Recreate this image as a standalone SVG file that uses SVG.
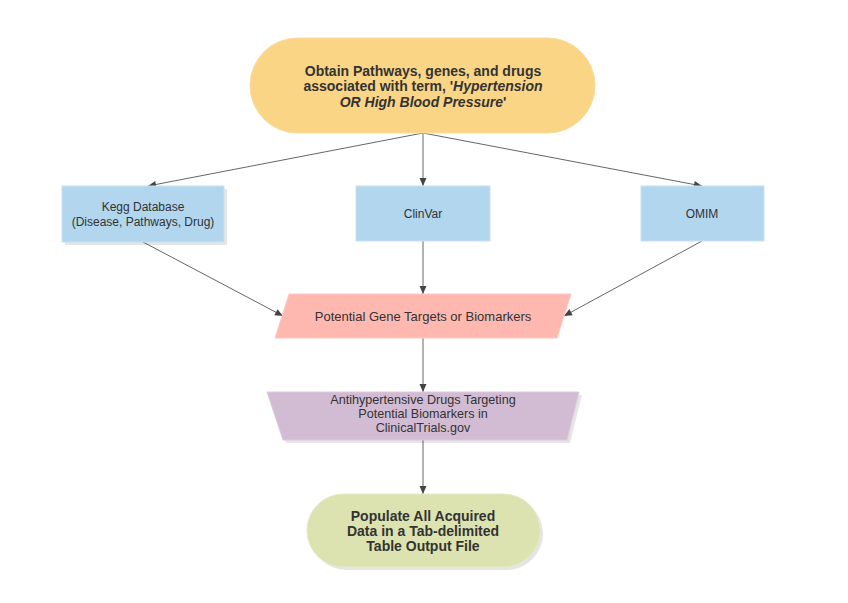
<svg xmlns="http://www.w3.org/2000/svg" width="848" height="603" viewBox="0 0 848 603">
<style>
text{font-family:"Liberation Sans",Arial,sans-serif;fill:#333;text-anchor:middle}
.b{font-weight:bold;font-size:14px}
.n{font-size:12px}
.m{font-size:13px}
.t{font-size:12.6px}
.e{stroke:#666;stroke-width:1;fill:none}
.blue{fill:#b1d6ed;stroke:#c8e2f3;stroke-width:1}
.sh{fill:#000;opacity:0.1}
</style>
<defs>
<marker id="ar" markerWidth="10" markerHeight="10" refX="9" refY="5" orient="auto" markerUnits="userSpaceOnUse">
<path d="M1,1.5 L9,5 L1,8.5 Z" fill="#444"/>
</marker>
</defs>
<rect width="848" height="603" fill="#fff"/>
<g id="edges">
<path class="e" d="M423,133 L148,186" marker-end="url(#ar)"/>
<path class="e" d="M423,133 L423,186" marker-end="url(#ar)"/>
<path class="e" d="M423,133 L702,186" marker-end="url(#ar)"/>
<path class="e" d="M143,242 L283,316" marker-end="url(#ar)"/>
<path class="e" d="M423,241 L423,294" marker-end="url(#ar)"/>
<path class="e" d="M702,241 L564,316" marker-end="url(#ar)"/>
<path class="e" d="M423,338 L423,392" marker-end="url(#ar)"/>
<path class="e" d="M423,440 L423,494" marker-end="url(#ar)"/>
</g>
<g id="start">
<rect x="250" y="38" width="345" height="95" rx="47.5" fill="#fad586" stroke="#fbdc9a"/>
<text class="b" x="423" y="76">Obtain Pathways, genes, and drugs</text>
<text class="b" x="423" y="91">associated with term, '<tspan font-style="italic">Hypertension</tspan></text>
<text class="b" x="423" y="107"><tspan font-style="italic">OR High Blood Pressure</tspan>'</text>
</g>
<g id="kegg">
<rect class="sh" x="65" y="189" width="162" height="56"/>
<rect class="blue" x="62" y="186" width="162" height="56"/>
<text class="n" x="143" y="211">Kegg Database</text>
<text class="n" x="143" y="226">(Disease, Pathways, Drug)</text>
</g>
<g id="clinvar">
<rect class="blue" x="356" y="186" width="134" height="55"/>
<text class="n" x="423" y="218">ClinVar</text>
</g>
<g id="omim">
<rect class="blue" x="641" y="186" width="123" height="55"/>
<text class="n" x="702" y="218">OMIM</text>
</g>
<g id="targets">
<polygon points="289,294 571,294 557,338 275,338" fill="#ffb8b0" stroke="#ffc8c2"/>
<text class="m" x="423" y="321">Potential Gene Targets or Biomarkers</text>
</g>
<g id="drugs">
<polygon class="sh" points="270,395 582,395 570,443 286,443" opacity="0.07"/>
<polygon points="267,392 579,392 567,440 283,440" fill="#d2bcd4" stroke="#ddcadf"/>
<text class="t" x="423" y="404">Antihypertensive Drugs Targeting</text>
<text class="t" x="423" y="418">Potential Biomarkers in</text>
<text class="t" x="423" y="432">ClinicalTrials.gov</text>
</g>
<g id="output">
<rect class="sh" x="310" y="497" width="233" height="73" rx="36.5"/>
<rect x="307" y="494" width="233" height="73" rx="36.5" fill="#dce3b0" stroke="#e5eac4"/>
<text class="b" x="423" y="521">Populate All Acquired</text>
<text class="b" x="423" y="536">Data in a Tab-delimited</text>
<text class="b" x="423" y="551">Table Output File</text>
</g>
</svg>
